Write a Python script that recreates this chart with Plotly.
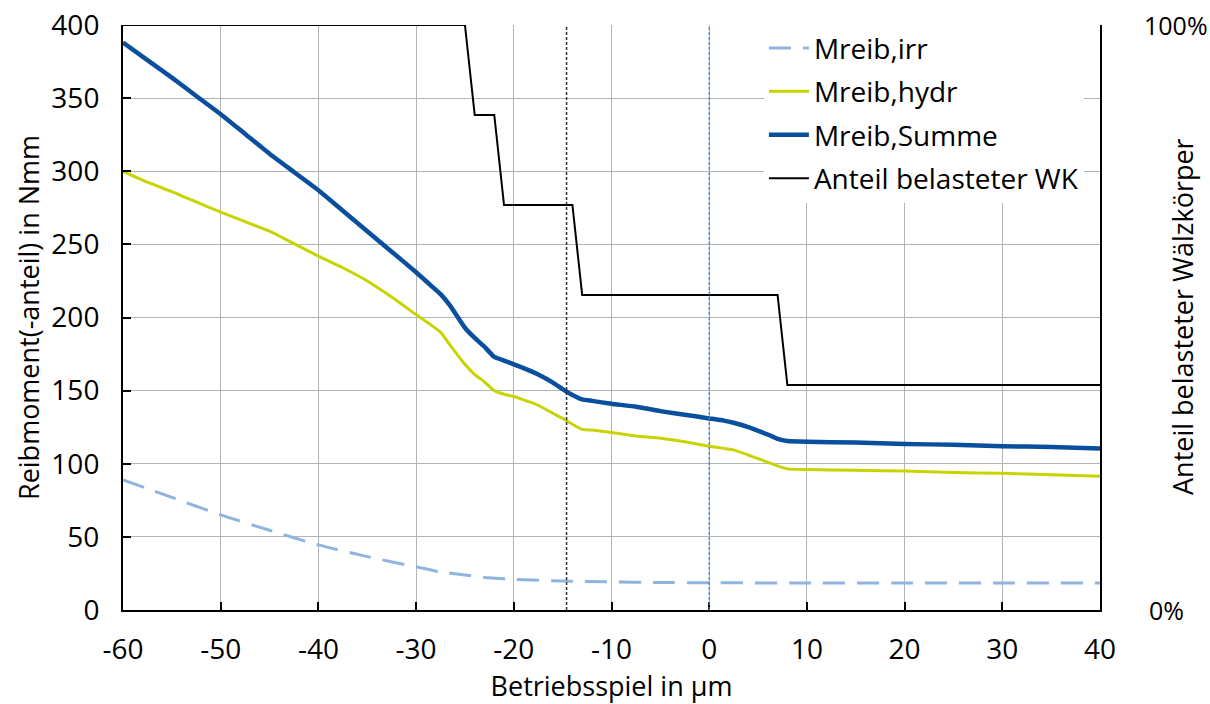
import plotly.graph_objects as go

# ---- data ----
x_summe = [-60, -57.5, -55, -52.5, -50, -47.5, -45, -42.5, -40, -37.5, -35, -32.5, -30, -28.5, -27.5,
           -26.5, -25, -24, -23, -22, -21, -20, -18.5, -17.5, -16, -15, -14, -13, -12, -10, -7.5, -5,
           -2.5, 0, 1.5, 2.5, 4, 5, 6, 7, 8, 10, 15, 20, 25, 30, 35, 40]
m_summe = [388, 376, 364, 351.5, 339, 325.5, 312, 299.5, 287, 273, 259, 245, 231, 222, 216,
           208, 193, 186, 180, 173, 170.5, 168, 164, 161, 155.5, 151, 147, 144, 143, 141, 139, 136,
           133.5, 131, 129.5, 128, 125, 122.5, 120, 117, 115.5, 115, 114.5, 113.5, 113, 112, 111.5, 110.5]
m_hydr = [300, 292.5, 286, 279, 272, 265.5, 259, 250.5, 242, 234, 225, 214, 202, 195, 190,
          181, 168, 161, 156, 150, 147.5, 146, 142.5, 140, 134.5, 131, 127, 123.5, 123, 121.3, 119, 117.4,
          115, 112, 110.5, 109.5, 106, 103.5, 101, 98.5, 96.5, 96, 95.5, 95, 94, 93.5, 92.5, 91.5]

x_irr = [-60, -55, -50, -45, -40, -35, -30, -27.5, -25, -22.5, -20, -15, -10, -5, 0, 10, 20, 30, 40]
m_irr = [89, 77, 65, 54.5, 44.5, 36.5, 29.5, 26, 24, 22, 21, 19.8, 19.2, 18.8, 18.6, 18.5, 18.5, 18.5, 18.5]

x_wk = [-60, -25, -24, -22, -21, -14, -13, 7, 8, 40]
anteil_wk = [13/13, 13/13, 11/13, 11/13, 9/13, 9/13, 7/13, 7/13, 5/13, 5/13]

marker_x_black = -14.6
marker_x_blue = 0

x_ticks = [-60, -50, -40, -30, -20, -10, 0, 10, 20, 30, 40]
x_tick_labels = ["-60", "-50", "-40", "-30", "-20", "-10", "0", "10", "20", "30", "40"]
y_ticks = [0, 50, 100, 150, 200, 250, 300, 350, 400]
y2_ticks = [0, 1]
y2_tick_labels = ["0%", "100%"]

FONT = "Open Sans"

fig = go.Figure()
fig.add_trace(go.Scatter(x=x_irr, y=m_irr, mode="lines", name="Mreib,irr",
                         line=dict(color="#8fb4dd", width=3, dash="22px,12px", shape="spline", smoothing=0.6),
                         legendgroup="a"))
fig.add_trace(go.Scatter(x=x_summe, y=m_hydr, mode="lines", name="Mreib,hydr",
                         line=dict(color="#c8d400", width=3, shape="spline", smoothing=0.4),
                         legendgroup="b"))
fig.add_trace(go.Scatter(x=x_summe, y=m_summe, mode="lines", name="Mreib,Summe",
                         line=dict(color="#0a4f9e", width=4.5, shape="spline", smoothing=0.4),
                         legendgroup="c"))
fig.add_trace(go.Scatter(x=x_wk, y=anteil_wk, mode="lines", name="Anteil belasteter WK",
                         line=dict(color="black", width=2), yaxis="y2", legendgroup="d"))

fig.add_shape(type="line", xref="x", yref="paper", x0=marker_x_black, x1=marker_x_black, y0=0, y1=1,
              line=dict(color="#333333", width=1.5, dash="3px,2px"), layer="above")
fig.add_shape(type="line", xref="x", yref="paper", x0=marker_x_blue, x1=marker_x_blue, y0=0, y1=1,
              line=dict(color="#3b7dd8", width=1.2, dash="3px,2px"), layer="above")

fig.add_annotation(text="Anteil belasteter Wälzkörper", xref="paper", yref="paper",
                   x=1 + 82 / 977, y=1 - 292 / 585, xanchor="center", yanchor="middle",
                   textangle=-90, showarrow=False, font=dict(size=27, family=FONT, color="black"))

# right-axis tick labels (placed at the y2 tick values)
for v, lab, dx in zip(y2_ticks, y2_tick_labels, [47, 42]):
    fig.add_annotation(text=lab, xref="paper", yref="y2", x=1 + dx / 977, y=v,
                       xanchor="left", yanchor="middle", showarrow=False,
                       font=dict(size=25, family=FONT, color="black"))

fig.update_layout(
    width=1210, height=704,
    margin=dict(l=123, r=110, t=25, b=94),
    paper_bgcolor="white", plot_bgcolor="white",
    font=dict(family=FONT, size=24, color="black"),
    showlegend=True,
    legend=dict(x=0.656, y=1.003, xanchor="left", yanchor="top",
                bgcolor="white", borderwidth=0, font=dict(size=28, family=FONT),
                traceorder="grouped", tracegroupgap=4, itemwidth=40),
    xaxis=dict(range=[-60, 40], tickvals=x_ticks, ticktext=x_tick_labels, ticks="inside", ticklen=8,
               tickwidth=2, tickcolor="black", showline=True, linecolor="black", linewidth=2,
               showgrid=True, gridcolor="#b4b4b4", gridwidth=1, zeroline=False, automargin=False,
               tickfont=dict(size=28, family=FONT), ticklabelstandoff=13,
               title=dict(text="Betriebsspiel in µm", font=dict(size=27, family=FONT), standoff=12)),
    yaxis=dict(range=[0, 400], tickvals=y_ticks, ticks="inside", ticklen=8, tickwidth=2,
               tickcolor="black", showline=True, linecolor="black", linewidth=2,
               showgrid=True, gridcolor="#b4b4b4", gridwidth=1, zeroline=False, automargin=False,
               tickfont=dict(size=28, family=FONT), ticklabelstandoff=16,
               title=dict(text="Reibmoment(-anteil) in Nmm", font=dict(size=27, family=FONT), standoff=4)),
    yaxis2=dict(range=[0, 1], overlaying="y", side="right", tickvals=y2_ticks, showticklabels=False,
                ticks="inside", ticklen=8, tickwidth=2, tickcolor="black", automargin=False,
                showline=True, linecolor="black", linewidth=2, showgrid=False, zeroline=False),
)

fig.write_html("out.html", post_script="document.body.style.margin='0';",
               config={"displayModeBar": False})
